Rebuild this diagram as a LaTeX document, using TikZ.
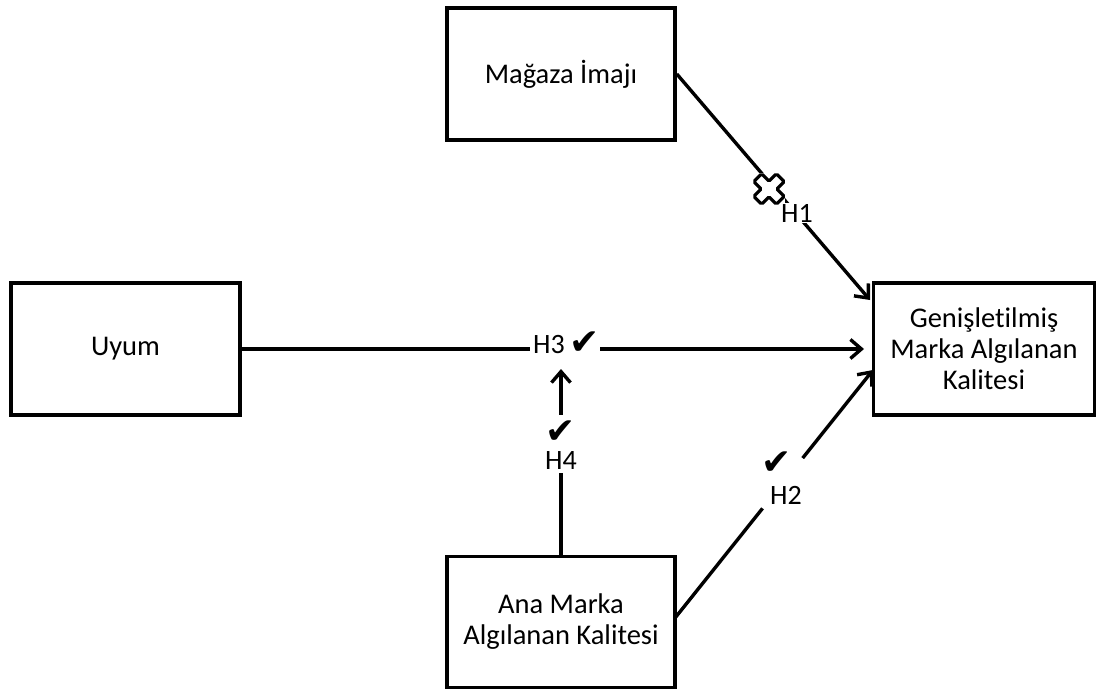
\documentclass[tikz,border=0pt]{standalone}
\usepackage{fontspec}
\setmainfont{Carlito}[Ligatures={NoCommon}]
\newfontfamily\dejavu{DejaVu Sans}
\usetikzlibrary{arrows.meta}
\tikzset{
  box/.style={draw, line width=3.6pt, inner sep=0pt, align=center, font=\fontsize{28.5}{31}\selectfont},
  conn/.style={line width=3.4pt, -{Straight Barb[length=11pt,width=19pt,line width=3.4pt]}},
  lbl/.style={fill=white, inner sep=1pt, font=\fontsize{28}{30}\selectfont},
  chk/.style={fill=white, inner sep=0pt, text height=24pt, text depth=0pt, font=\dejavu\fontsize{36}{36}\selectfont},
}
\begin{document}
\begin{tikzpicture}[x=1pt,y=-1pt]
\useasboundingbox (0,0) rectangle (1098,691);
\node[box, minimum width=228pt, minimum height=132pt] (mag) at (561,74) {Mağaza İmajı};
\node[box, minimum width=229pt, minimum height=132pt] (uyum) at (125.5,349) {Uyum};
\node[box, minimum width=221pt, minimum height=132pt] (gen) at (984,349) {Genişletilmiş\\Marka Algılanan\\Kalitesi};
\node[box, minimum width=228pt, minimum height=131pt] (ana) at (561,622) {Ana Marka\\Algılanan Kalitesi};

\coordinate (t1) at (870,300);
\coordinate (t3) at (864,349);
\coordinate (t2) at (873,370);
\coordinate (t4) at (561,369);
\coordinate (s2) at (675,618);

\draw[conn] (mag.east) -- (t1);
\draw[conn] (uyum.east) -- (t3);
\draw[conn] (s2) -- (t2);
\draw[conn] (ana.north) -- (t4);

% H1 labels
\node[fill=white, minimum width=32pt, minimum height=32pt, inner sep=0pt] (xb) at (769,189) {};
\draw[line width=3.2pt, fill=white, rounded corners=1.5pt, rotate around={45:(769,189)}]
  (769-5.5,189-16) -- (769+5.5,189-16) -- (769+5.5,189-5.5) -- (769+16,189-5.5) -- (769+16,189+5.5)
  -- (769+5.5,189+5.5) -- (769+5.5,189+16) -- (769-5.5,189+16) -- (769-5.5,189+5.5) -- (769-16,189+5.5)
  -- (769-16,189-5.5) -- (769-5.5,189-5.5) -- cycle;
\node[lbl] (h1) at (797,213) {H1};

% H3 label
\node[fill=white, minimum width=70pt, minimum height=30pt, inner sep=0pt] (h3bg) at (565,346) {};
\node[lbl] (h3) at (549,345) {H3};
\node[chk] (c3) at (585,342) {✔};

% H4 labels
\node[fill=white, minimum width=30pt, minimum height=58pt, inner sep=0pt] (h4bg) at (561,444) {};
\node[chk] (c4) at (561,431) {✔};
\node[lbl] (h4) at (561,461) {H4};

% H2 labels
\node[fill=white, minimum width=36pt, minimum height=64pt, inner sep=0pt, rotate=-38] (h2bg) at (781,482) {};
\node[chk] (c2) at (777,462) {✔};
\node[lbl] (h2) at (786,495) {H2};
\end{tikzpicture}
\end{document}
